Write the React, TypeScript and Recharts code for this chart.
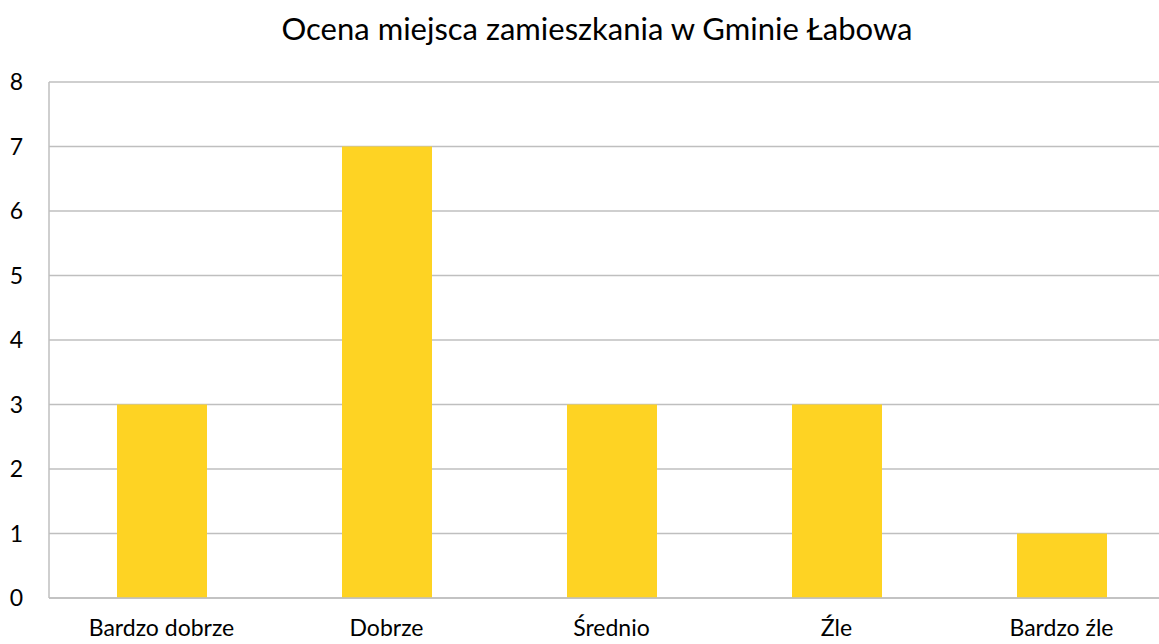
import React from 'react';
import { BarChart, Bar, XAxis, YAxis, CartesianGrid } from 'recharts';

const categories = ['Bardzo dobrze', 'Dobrze', 'Średnio', 'Źle', 'Bardzo źle'];
const counts = [3, 7, 3, 3, 1];
const yTicks = [0, 1, 2, 3, 4, 5, 6, 7, 8];

const chartData = categories.map((name, i) => ({ name, value: counts[i] }));

const FONT = 'Lato, "Open Sans", sans-serif';

const App: React.FC = () => {
  return (
    <div
      style={{
        position: 'fixed',
        top: 0,
        left: 0,
        width: 1159,
        height: 644,
        overflow: 'hidden',
        background: '#fff',
        fontFamily: FONT,
      }}
    >
      <div
        style={{
          position: 'absolute',
          top: 9,
          left: 0,
          width: 1194,
          textAlign: 'center',
          fontSize: 31,
          color: '#000',
        }}
      >
        Ocena miejsca zamieszkania w Gminie Łabowa
      </div>
      <BarChart
        width={1200}
        height={644}
        data={chartData}
        margin={{ top: 82, right: 26, left: 0, bottom: 0 }}
        barSize={90}
        style={{ position: 'absolute', top: 0, left: 0 }}
      >
        <CartesianGrid vertical={false} stroke="#bfbfbf" strokeWidth={1.5} />
        <XAxis
          dataKey="name"
          height={46}
          tickLine={false}
          axisLine={{ stroke: '#bfbfbf', strokeWidth: 1.5 }}
          tickSize={0}
          tickMargin={22}
          tick={{ fill: '#000', fontSize: 23, fontFamily: FONT }}
        />
        <YAxis
          width={49}
          domain={[0, 8]}
          ticks={yTicks}
          interval={0}
          tickLine={false}
          axisLine={{ stroke: '#bfbfbf', strokeWidth: 1.5 }}
          tickSize={0}
          tickMargin={26}
          tick={{ fill: '#000', fontSize: 23, fontFamily: FONT }}
        />
        <Bar dataKey="value" fill="#fed323" isAnimationActive={false} />
      </BarChart>
    </div>
  );
};

export default App;
